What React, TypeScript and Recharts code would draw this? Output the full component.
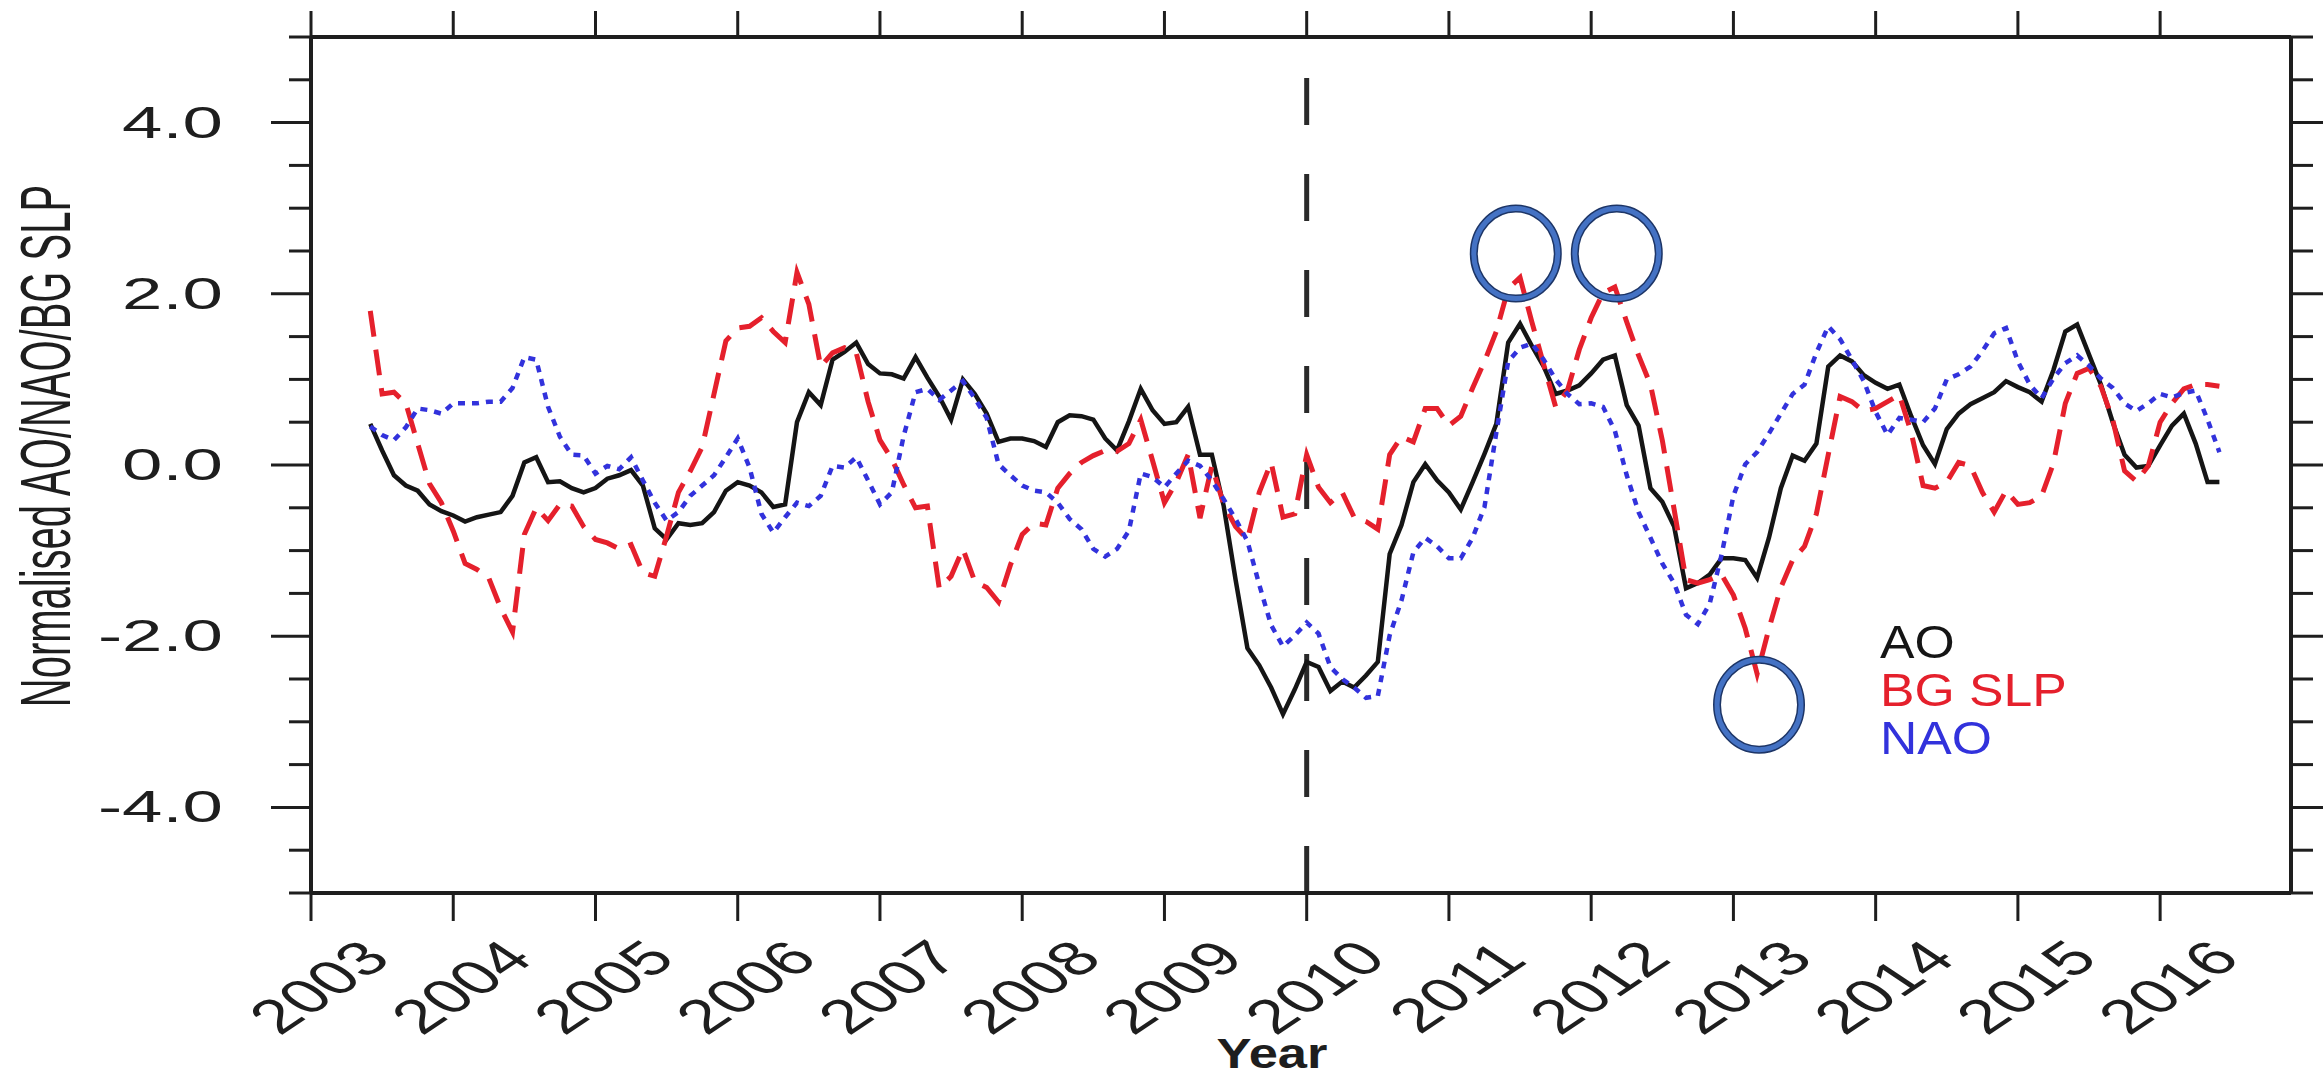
import React from "react";
import {
  ComposedChart,
  Line,
  Scatter,
  XAxis,
  YAxis,
  Legend,
  ReferenceLine,
} from "recharts";

// monthly values, June 2003 .. June 2016
const aoValues = [
  0.48, 0.17, -0.12, -0.24, -0.3, -0.46, -0.54, -0.59, -0.66, -0.61,
  -0.58, -0.55, -0.36, 0.03, 0.09, -0.2, -0.19, -0.27, -0.32, -0.27,
  -0.16, -0.12, -0.06, -0.24, -0.74, -0.87, -0.68, -0.7, -0.68, -0.55,
  -0.3, -0.2, -0.24, -0.32, -0.49, -0.46, 0.5, 0.85, 0.7, 1.23,
  1.32, 1.43, 1.18, 1.07, 1.06, 1.01, 1.26, 1.02, 0.8, 0.53,
  1.0, 0.83, 0.6, 0.27, 0.31, 0.31, 0.28, 0.21, 0.5, 0.58,
  0.57, 0.53, 0.31, 0.17, 0.51, 0.89, 0.64, 0.48, 0.5, 0.68,
  0.12, 0.12, -0.48, -1.34, -2.14, -2.34, -2.6, -2.91, -2.62, -2.3,
  -2.36, -2.64, -2.53, -2.6, -2.46, -2.3, -1.04, -0.7, -0.2, 0.01,
  -0.18, -0.32, -0.52, -0.2, 0.13, 0.48, 1.43, 1.65, 1.39, 1.15,
  0.83, 0.87, 0.93, 1.07, 1.23, 1.28, 0.7, 0.46, -0.27, -0.43,
  -0.72, -1.44, -1.38, -1.28, -1.09, -1.09, -1.11, -1.32, -0.85, -0.27,
  0.11, 0.05, 0.25, 1.15, 1.28, 1.21, 1.05, 0.96, 0.89, 0.94,
  0.57, 0.23, 0.01, 0.42, 0.6, 0.71, 0.78, 0.85, 0.98, 0.91,
  0.85, 0.74, 1.11, 1.56, 1.64, 1.29, 0.94, 0.5, 0.12, -0.03,
  -0.01, 0.23, 0.46, 0.6, 0.25, -0.2, -0.2,
];

const slpValues = [
  1.8, 0.83, 0.85, 0.72, 0.25, -0.22, -0.44, -0.77, -1.15, -1.22,
  -1.32, -1.67, -1.95, -0.81, -0.5, -0.65, -0.46, -0.48, -0.72, -0.87,
  -0.91, -0.98, -0.93, -1.26, -1.3, -0.83, -0.32, -0.07, 0.21, 0.83,
  1.45, 1.6, 1.62, 1.72, 1.56, 1.43, 2.25, 1.88, 1.15, 1.31,
  1.37, 1.31, 0.74, 0.29, 0.07, -0.23, -0.5, -0.48, -1.44, -1.3,
  -0.98, -1.36, -1.43, -1.6, -1.17, -0.81, -0.68, -0.7, -0.27, -0.1,
  0.03, 0.11, 0.17, 0.16, 0.25, 0.53, 0.05, -0.44, -0.2, 0.12,
  -0.62, -0.01, -0.46, -0.72, -0.87, -0.32, 0.03, -0.61, -0.57, 0.12,
  -0.26, -0.44, -0.32, -0.61, -0.66, -0.75, 0.12, 0.33, 0.27, 0.66,
  0.66, 0.46, 0.57, 0.9, 1.21, 1.56, 2.06, 2.19, 1.67, 1.17,
  0.68, 0.87, 1.35, 1.72, 2.01, 2.08, 1.67, 1.28, 0.94, 0.29,
  -0.52, -1.34, -1.38, -1.34, -1.28, -1.52, -1.91, -2.44, -1.91, -1.43,
  -1.11, -0.95, -0.57, 0.12, 0.8, 0.74, 0.63, 0.66, 0.74, 0.82,
  0.38, -0.24, -0.27, -0.2, 0.03, -0.01, -0.32, -0.55, -0.3, -0.46,
  -0.44, -0.36, 0.02, 0.72, 1.07, 1.13, 0.92, 0.53, -0.07, -0.19,
  -0.01, 0.5, 0.72, 0.89, 0.94, 0.94, 0.92,
];

const naoValues = [
  0.45, 0.35, 0.29, 0.44, 0.66, 0.64, 0.6, 0.72, 0.72, 0.72,
  0.74, 0.74, 0.9, 1.26, 1.23, 0.68, 0.33, 0.12, 0.11, -0.1,
  -0.01, -0.05, 0.09, -0.18, -0.44, -0.65, -0.55, -0.36, -0.24, -0.12,
  0.09, 0.31, -0.03, -0.57, -0.79, -0.61, -0.44, -0.48, -0.36, -0.01,
  -0.03, 0.09, -0.18, -0.46, -0.32, 0.34, 0.85, 0.89, 0.76, 0.87,
  0.98, 0.78, 0.55, 0.01, -0.12, -0.24, -0.3, -0.32, -0.44, -0.63,
  -0.75, -0.98, -1.07, -0.98, -0.77, -0.1, -0.14, -0.26, -0.1, 0.05,
  -0.01, -0.18, -0.4, -0.63, -0.89, -1.4, -1.87, -2.12, -1.99, -1.84,
  -1.97, -2.36, -2.5, -2.6, -2.72, -2.7, -1.99, -1.58, -1.02, -0.85,
  -0.95, -1.09, -1.09, -0.85, -0.49, 0.38, 1.21, 1.37, 1.42, 1.23,
  1.0, 0.83, 0.71, 0.72, 0.68, 0.4, -0.12, -0.55, -0.85, -1.15,
  -1.38, -1.75, -1.86, -1.62, -1.05, -0.36, 0.01, 0.15, 0.37, 0.6,
  0.83, 0.94, 1.31, 1.62, 1.47, 1.23, 0.98, 0.62, 0.35, 0.55,
  0.53, 0.5, 0.66, 1.0, 1.06, 1.15, 1.33, 1.54, 1.6, 1.21,
  0.94, 0.78, 1.01, 1.19, 1.28, 1.16, 1.01, 0.9, 0.72, 0.63,
  0.72, 0.83, 0.79, 0.84, 0.87, 0.53, 0.15,
];

const yearTicks = [
  2003, 2004, 2005, 2006, 2007, 2008, 2009, 2010, 2011, 2012, 2013, 2014,
  2015, 2016,
];
const valueTicks = [
  -5, -4.5, -4, -3.5, -3, -2.5, -2, -1.5, -1, -0.5, 0, 0.5, 1, 1.5, 2, 2.5,
  3, 3.5, 4, 4.5, 5,
];

// highlighted extremes (circled in the figure)
const circleYears = [2011.47, 2012.18, 2013.18];
const circleValues = [2.47, 2.47, -2.8];

const data = aoValues.map((ao, i) => ({
  t: 2003 + (5 + i) / 12,
  ao,
  slp: slpValues[i],
  nao: naoValues[i],
}));
const ringData = circleYears.map((t, i) => ({ t, ring: circleValues[i] }));

const INK = "#1e1e1e";
const FONT = "'Liberation Sans', Arial, Helvetica, sans-serif";

const isMajor = (v: number) => Math.abs(v) <= 4 && v % 2 === 0;

const LeftTick = ({ x, y, payload }: any) => {
  const v = payload.value;
  const major = isMajor(v);
  return (
    <g>
      <line x1={x} x2={x - (major ? 40 : 22)} y1={y} y2={y} stroke={INK} strokeWidth={3} />
      {major && (
        <text
          transform={`translate(${x - 88} ${y}) scale(1.65 1)`}
          textAnchor="end"
          dominantBaseline="central"
          fontSize={44}
          fontFamily={FONT}
          fill={INK}
        >
          {v.toFixed(1)}
        </text>
      )}
    </g>
  );
};

const RightTick = ({ x, y, payload }: any) => (
  <line
    x1={x}
    x2={x + (isMajor(payload.value) ? 40 : 22)}
    y1={y}
    y2={y}
    stroke={INK}
    strokeWidth={3}
  />
);

const BottomTick = ({ x, y, payload }: any) => (
  <g>
    <line x1={x} x2={x} y1={y} y2={y + 28} stroke={INK} strokeWidth={3} />
    <text
      transform={`translate(${x + 8} ${y + 94}) scale(1.5 1) rotate(-45)`}
      textAnchor="middle"
      dominantBaseline="central"
      fontSize={48}
      fontFamily={FONT}
      fill={INK}
    >
      {payload.value}
    </text>
  </g>
);

const TopTick = ({ x, y }: any) => (
  <line x1={x} x2={x} y1={y} y2={y - 26} stroke={INK} strokeWidth={3} />
);

const YTitle = () => (
  <text
    transform={`translate(70 446) scale(1.75 1) rotate(-90)`}
    textAnchor="middle"
    fontSize={40}
    fontFamily={FONT}
    fill={INK}
  >
    Normalised AO/NAO/BG SLP
  </text>
);

const XTitle = () => (
  <text
    transform={`translate(1272 1068) scale(1.25 1)`}
    textAnchor="middle"
    fontSize={42}
    fontWeight="bold"
    fontFamily={FONT}
    fill={INK}
  >
    Year
  </text>
);

// open ring: dark edge with a blue band, transparent inside
const Ring = ({ cx, cy }: any) => (
  <g>
    <ellipse cx={cx} cy={cy} rx={42} ry={45} fill="none" stroke="#1d3566" strokeWidth={8} />
    <ellipse cx={cx} cy={cy} rx={42} ry={45} fill="none" stroke="#4472c4" strokeWidth={5} />
  </g>
);

const LegendText = ({ payload }: any) => (
  <div style={{ fontFamily: FONT, fontSize: 47, lineHeight: "48px" }}>
    {(payload || [])
      .filter((e: any) => e.type !== "none")
      .map((e: any) => (
        <div
          key={e.value}
          style={{ color: e.color, transform: "scaleX(1.1)", transformOrigin: "left", whiteSpace: "nowrap" }}
        >
          {e.value}
        </div>
      ))}
  </div>
);

export default function App() {
  return (
    <div style={{ position: "absolute", left: 0, top: 0, width: 2323, height: 1081, background: "#fff" }}>
      <ComposedChart width={2323} height={1081} data={data} margin={{ top: 0, right: 0, bottom: 0, left: 0 }}>
        <XAxis
          xAxisId="b"
          dataKey="t"
          type="number"
          domain={[2003, 2016.92]}
          ticks={yearTicks}
          interval={0}
          allowDataOverflow
          height={188}
          tickSize={0}
          tickMargin={0}
          tickLine={false}
          axisLine={{ stroke: INK, strokeWidth: 4 }}
          tick={BottomTick}
          label={<XTitle />}
        />
        <XAxis
          xAxisId="t"
          orientation="top"
          dataKey="t"
          type="number"
          domain={[2003, 2016.92]}
          ticks={yearTicks}
          interval={0}
          allowDataOverflow
          height={37}
          tickSize={0}
          tickMargin={0}
          tickLine={false}
          axisLine={{ stroke: INK, strokeWidth: 4 }}
          tick={TopTick}
        />
        <YAxis
          yAxisId="l"
          type="number"
          domain={[-5, 5]}
          ticks={valueTicks}
          interval={0}
          allowDataOverflow
          width={311}
          tickSize={0}
          tickMargin={0}
          tickLine={false}
          axisLine={{ stroke: INK, strokeWidth: 4 }}
          tick={LeftTick}
          label={<YTitle />}
        />
        <YAxis
          yAxisId="r"
          orientation="right"
          type="number"
          domain={[-5, 5]}
          ticks={valueTicks}
          interval={0}
          allowDataOverflow
          width={32}
          tickSize={0}
          tickMargin={0}
          tickLine={false}
          axisLine={{ stroke: INK, strokeWidth: 4 }}
          tick={RightTick}
        />
        <ReferenceLine
          xAxisId="b"
          yAxisId="l"
          x={2010}
          stroke="#2a2a2a"
          strokeWidth={5}
          strokeDasharray="47 49"
        />
        <Line
          xAxisId="b"
          yAxisId="l"
          name="AO"
          dataKey="ao"
          type="linear"
          stroke="#151515"
          strokeWidth={4.5}
          dot={false}
          isAnimationActive={false}
        />
        <Line
          xAxisId="b"
          yAxisId="l"
          name="BG SLP"
          dataKey="slp"
          type="linear"
          stroke="#e5202c"
          strokeWidth={5}
          strokeDasharray="26 13"
          dot={false}
          isAnimationActive={false}
        />
        <Line
          xAxisId="b"
          yAxisId="l"
          name="NAO"
          dataKey="nao"
          type="linear"
          stroke="#3232dc"
          strokeWidth={4.5}
          strokeDasharray="7 7"
          dot={false}
          isAnimationActive={false}
        />
        <Scatter
          xAxisId="b"
          yAxisId="l"
          data={ringData}
          dataKey="ring"
          legendType="none"
          fill="none"
          shape={Ring}
          isAnimationActive={false}
        />
        <Legend
          layout="horizontal"
          verticalAlign="middle"
          align="center"
          content={LegendText}
          wrapperStyle={{ position: "absolute", left: 1880, top: 618, width: "auto", height: "auto" }}
        />
      </ComposedChart>
    </div>
  );
}
